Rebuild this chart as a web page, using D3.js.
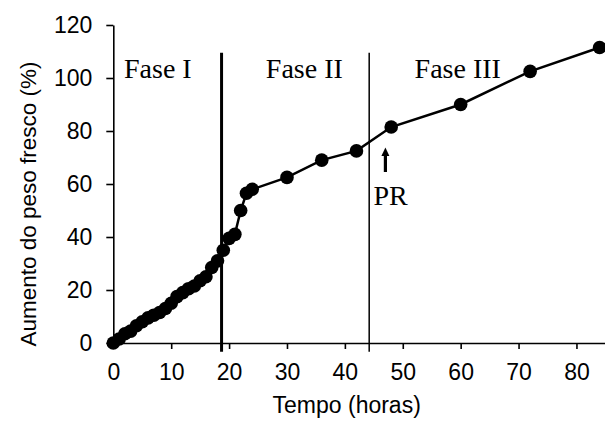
<!DOCTYPE html>
<html>
<head>
<meta charset="utf-8">
<script src="https://cdn.jsdelivr.net/npm/d3@7"></script>
<style>
  body { margin: 0; background: #fff; }
  svg { display: block; }
</style>
</head>
<body>
<div id="chart"></div>
<script>
// data
var tempo = [0, 1, 2, 3, 4, 5, 6, 7, 8, 9, 10, 11, 12, 13, 14, 15, 16, 17, 18, 19, 20, 21, 22, 23, 24, 30, 36, 42, 48, 60, 72, 84];
var aumento = [0, 1.5, 3.5, 4.5, 6.5, 8, 9.5, 10.5, 11.5, 13, 15, 17.5, 19, 20.5, 21.5, 23.5, 25, 28.5, 31, 35, 39.5, 41, 50, 56.5, 58, 62.5, 69, 72.5, 81.5, 90, 102.5, 111.5];
var xTicks = [0, 10, 20, 30, 40, 50, 60, 70, 80];
var yTicks = [0, 20, 40, 60, 80, 100, 120];
var phaseLimits = [18.7, 44.2];
var phaseWidths = [3, 1.5];
var phaseNames = ["Fase I", "Fase II", "Fase III"];
var phaseLabelX = [7.7, 33, 59.5];

var width = 605, height = 421;

var svg = d3.select("#chart")
    .append("svg")
    .attr("width", width)
    .attr("height", height);

var x = d3.scaleLinear()
    .domain([0, 85])
    .range([113.3, 605.4]);

var y = d3.scaleLinear()
    .domain([0, 120])
    .range([343, 25]);

// X axis
var gx = svg.append("g")
    .attr("transform", "translate(0," + y(0) + ")")
    .call(d3.axisBottom(x).tickValues(xTicks).tickSize(6).tickSizeOuter(0).tickPadding(14.5));

// Y axis
var gy = svg.append("g")
    .attr("transform", "translate(" + x(0) + ",0)")
    .call(d3.axisLeft(y).tickValues(yTicks).tickSize(7).tickSizeOuter(0).tickPadding(14));

[gx, gy].forEach(function (g) {
    g.selectAll("path, line").attr("stroke", "#000").attr("stroke-width", 1.6);
    g.selectAll("text")
        .attr("fill", "#000")
        .style("font-family", "'Liberation Sans', Arial, sans-serif")
        .style("font-size", "23px");
});

// phase limits
svg.selectAll(".limit")
    .data(phaseLimits)
    .enter()
    .append("line")
    .attr("x1", function (d) { return x(d); })
    .attr("x2", function (d) { return x(d); })
    .attr("y1", y(109.5))
    .attr("y2", y(-3.3))
    .attr("stroke", "#000")
    .attr("stroke-width", function (d, i) { return phaseWidths[i]; });

// line + dots
var line = d3.line()
    .x(function (d, i) { return x(tempo[i]); })
    .y(function (d) { return y(d); });

svg.append("path")
    .datum(aumento)
    .attr("fill", "none")
    .attr("stroke", "#000")
    .attr("stroke-width", 2.5)
    .attr("d", line);

svg.selectAll(".dot")
    .data(aumento)
    .enter()
    .append("circle")
    .attr("cx", function (d, i) { return x(tempo[i]); })
    .attr("cy", function (d) { return y(d); })
    .attr("r", 6.8)
    .attr("fill", "#000");

// phase labels
svg.selectAll(".fase")
    .data(phaseNames)
    .enter()
    .append("text")
    .attr("x", function (d, i) { return x(phaseLabelX[i]); })
    .attr("y", y(100))
    .attr("text-anchor", "middle")
    .style("font-family", "'Liberation Serif', 'Times New Roman', serif")
    .style("font-size", "28px")
    .text(function (d) { return d; });

// PR arrow
var arrowX = x(47);
svg.append("line")
    .attr("x1", arrowX)
    .attr("x2", arrowX)
    .attr("y1", 172)
    .attr("y2", 154)
    .attr("stroke", "#000")
    .attr("stroke-width", 3.2);
svg.append("path")
    .attr("d", "M" + (arrowX - 4) + ",156 L" + arrowX + ",147.5 L" + (arrowX + 4) + ",156 Z")
    .attr("fill", "#000");
svg.append("text")
    .attr("x", x(47.9))
    .attr("y", 205)
    .attr("text-anchor", "middle")
    .style("font-family", "'Liberation Serif', 'Times New Roman', serif")
    .style("font-size", "28px")
    .text("PR");

// axis titles
svg.append("text")
    .attr("x", 346.7)
    .attr("y", 413)
    .attr("text-anchor", "middle")
    .style("font-family", "'Liberation Sans', Arial, sans-serif")
    .style("font-size", "23px")
    .text("Tempo (horas)");

svg.append("text")
    .attr("transform", "rotate(-90)")
    .attr("x", -204)
    .attr("y", 36)
    .attr("text-anchor", "middle")
    .style("font-family", "'Liberation Sans', Arial, sans-serif")
    .style("font-size", "22.5px")
    .text("Aumento do peso fresco (%)");
</script>
</body>
</html>
